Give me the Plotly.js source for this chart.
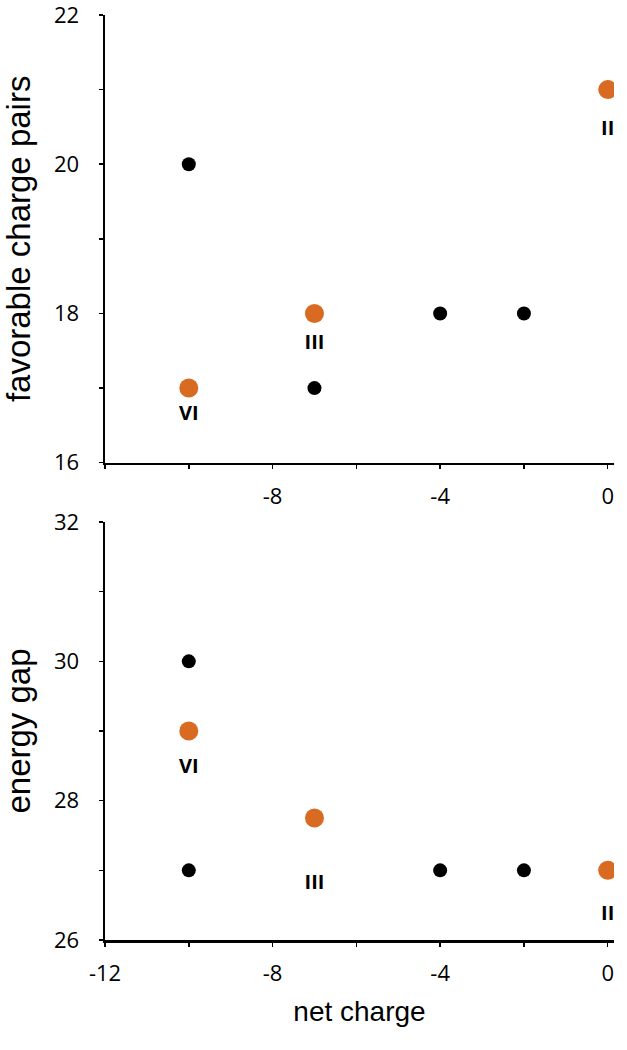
<!DOCTYPE html>
<html>
<head>
<meta charset="utf-8">
<script src="https://cdn.plot.ly/plotly-3.0.1.min.js"></script>
<style>
  html, body { margin: 0; padding: 0; background: #fff; }
  #chart { width: 627px; height: 1050px; }
</style>
</head>
<body>
<div id="chart"></div>
<script>
// top panel: favorable charge pairs vs net charge
const pairsBlackX = [-10, -7, -4, -2];
const pairsBlackY = [20, 17, 18, 18];
const pairsOrangeX = [-10, -7, 0];
const pairsOrangeY = [17, 18, 21];
const pairsLabelY = [16.64, 17.59, 20.46];

// bottom panel: energy gap vs net charge
const gapBlackX = [-10, -10, -10, -4, -2];
const gapBlackY = [30, 29, 27, 27, 27];
const gapOrangeX = [-10, -7, 0];
const gapOrangeY = [29, 27.75, 27];
const gapLabelY = [28.47, 26.8, 26.36];

const formLabels = ["VI", "III", "II"];

const xTicks = [-12, -10, -8, -6, -4, -2, 0];
const xTextTop = ["", "", "-8", "", "-4", "", "0"];
const xTextBottom = ["-12", "", "-8", "", "-4", "", "0"];
const yTicksTop = [16, 17, 18, 19, 20, 21, 22];
const yTextTop = ["16", "", "18", "", "20", "", "22"];
const yTicksBottom = [26, 27, 28, 29, 30, 31, 32];
const yTextBottom = ["26", "", "28", "", "30", "", "32"];

const ORANGE = "#d86a22";
const BLACK = "#000000";
const TICKFONT = "Open Sans, sans-serif";
const TITLEFONT = "Liberation Sans, Arial, sans-serif";

function dots(x, y, color, size, xa, ya) {
  return { x, y, xaxis: xa, yaxis: ya, type: "scatter", mode: "markers",
    marker: { color, size }, hoverinfo: "x+y" };
}
function labels(x, y, xa, ya) {
  return { x, y, text: formLabels, xaxis: xa, yaxis: ya, type: "scatter", mode: "text",
    textfont: { family: "Open Sans, sans-serif", size: 20, color: "#000", weight: 700 },
    hoverinfo: "skip" };
}

const traces = [
  dots(pairsBlackX, pairsBlackY, BLACK, 14, "x", "y"),
  dots(pairsOrangeX, pairsOrangeY, ORANGE, 19, "x", "y"),
  labels(pairsOrangeX, pairsLabelY, "x", "y"),
  dots(gapBlackX, gapBlackY, BLACK, 14, "x2", "y2"),
  dots(gapOrangeX, gapOrangeY, ORANGE, 19, "x2", "y2"),
  labels(gapOrangeX, gapLabelY, "x2", "y2"),
];

function axis(extra) {
  return Object.assign({
    showgrid: false, zeroline: false, showline: true, linecolor: "#000", linewidth: 2.5,
    ticks: "outside", ticklen: 4, tickwidth: 1.5, tickcolor: "#000",
    ticklabeloverflow: "allow",
    tickfont: { family: TICKFONT, size: 22, color: "#000" }, tickmode: "array",
  }, extra);
}
function title(text, size, standoff) {
  return { text, font: { family: TITLEFONT, size, color: "#000" }, standoff };
}

const layout = {
  width: 627, height: 1050,
  margin: { l: 105, r: 13, t: 15, b: 110 },
  paper_bgcolor: "#fff", plot_bgcolor: "#fff",
  showlegend: false,
  xaxis: axis({ anchor: "y", range: [-12, 0.15], domain: [0, 1], ticklabelstandoff: 8,
    tickvals: xTicks, ticktext: xTextTop }),
  yaxis: axis({ anchor: "x", range: [16, 22], domain: [0.516, 1], ticklabelstandoff: 15,
    tickvals: yTicksTop, ticktext: yTextTop,
    title: title("favorable charge pairs", 33, 14) }),
  xaxis2: axis({ anchor: "y2", range: [-12, 0.15], domain: [0, 1], ticklabelstandoff: 8,
    tickvals: xTicks, ticktext: xTextBottom,
    title: title("net charge", 28, 16) }),
  yaxis2: axis({ anchor: "x2", range: [26, 32], domain: [0, 0.4519], ticklabelstandoff: 15,
    tickvals: yTicksBottom, ticktext: yTextBottom,
    title: title("energy gap", 33, 14) }),
};

Plotly.newPlot("chart", traces, layout, { displayModeBar: false, staticPlot: true });
</script>
</body>
</html>
